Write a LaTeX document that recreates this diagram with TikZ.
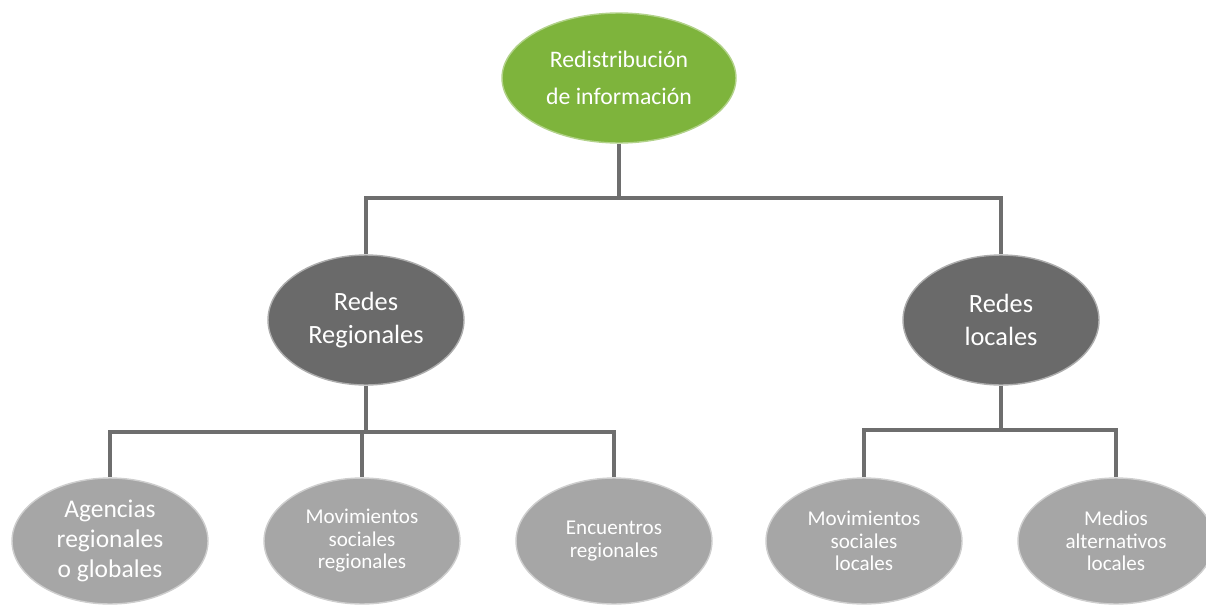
\documentclass[tikz,border=0pt]{standalone}
\usepackage{fontspec}
\setmainfont{Carlito}
\usetikzlibrary{shapes.geometric}

\definecolor{rootgreen}{RGB}{126,180,60}
\definecolor{midgray}{RGB}{106,106,106}
\definecolor{leafgray}{RGB}{166,166,166}
\definecolor{linkgray}{RGB}{110,110,110}

\begin{document}
\begin{tikzpicture}[x=0.02cm,y=-0.02cm,
  link/.style={draw=linkgray,line width=2.8pt},
  root node/.style={ellipse,fill=rootgreen,draw=rootgreen!60!white,line width=0.8pt,
    minimum width=4.68cm,minimum height=2.6cm,inner sep=0pt,text=white,align=center,
    font=\fontsize{13.5}{21}\selectfont},
  mid node/.style={ellipse,fill=midgray,draw=midgray!55!white,line width=0.8pt,
    minimum width=3.92cm,minimum height=2.6cm,inner sep=0pt,text=white,align=center,
    font=\fontsize{15}{18.5}\selectfont},
  leaf node/.style={ellipse,fill=leafgray,draw=leafgray!55!white,line width=0.8pt,
    minimum width=3.92cm,minimum height=2.52cm,inner sep=0pt,text=white,align=center,
    font=\fontsize{12}{12.8}\selectfont}]

  \useasboundingbox (0,0) rectangle (1206,605);

  \node[root node] (root) at (619,78) {Redistribución\\de información};

  \node[mid node] (reg) at (366,320) {Redes\\Regionales};
  \node[mid node] (loc) at (1001,320) {Redes\\locales};

  \node[leaf node,font=\fontsize{14.5}{17}\selectfont] (agen) at (110,541) {Agencias\\regionales\\o globales};
  \node[leaf node] (movreg) at (362,541) {Movimientos\\sociales\\regionales};
  \node[leaf node] (encu) at (614,541) {Encuentros\\regionales};
  \node[leaf node] (movloc) at (864,541) {Movimientos\\sociales\\locales};
  \node[leaf node] (medios) at (1116,541) {Medios\\alternativos\\locales};

  \coordinate (jroot) at (619,198);
  \coordinate (jreg) at (366,432);
  \coordinate (jloc) at (1001,430);

  \draw[link] (root.south) -- (jroot);
  \draw[link] (jroot) -| (reg.north);
  \draw[link] (jroot) -| (loc.north);

  \draw[link] (reg.south) -- (jreg);
  \draw[link] (jreg) -| (agen.north);
  \draw[link] (jreg) -| (movreg.north);
  \draw[link] (jreg) -| (encu.north);

  \draw[link] (loc.south) -- (jloc);
  \draw[link] (jloc) -| (movloc.north);
  \draw[link] (jloc) -| (medios.north);
\end{tikzpicture}
\end{document}
